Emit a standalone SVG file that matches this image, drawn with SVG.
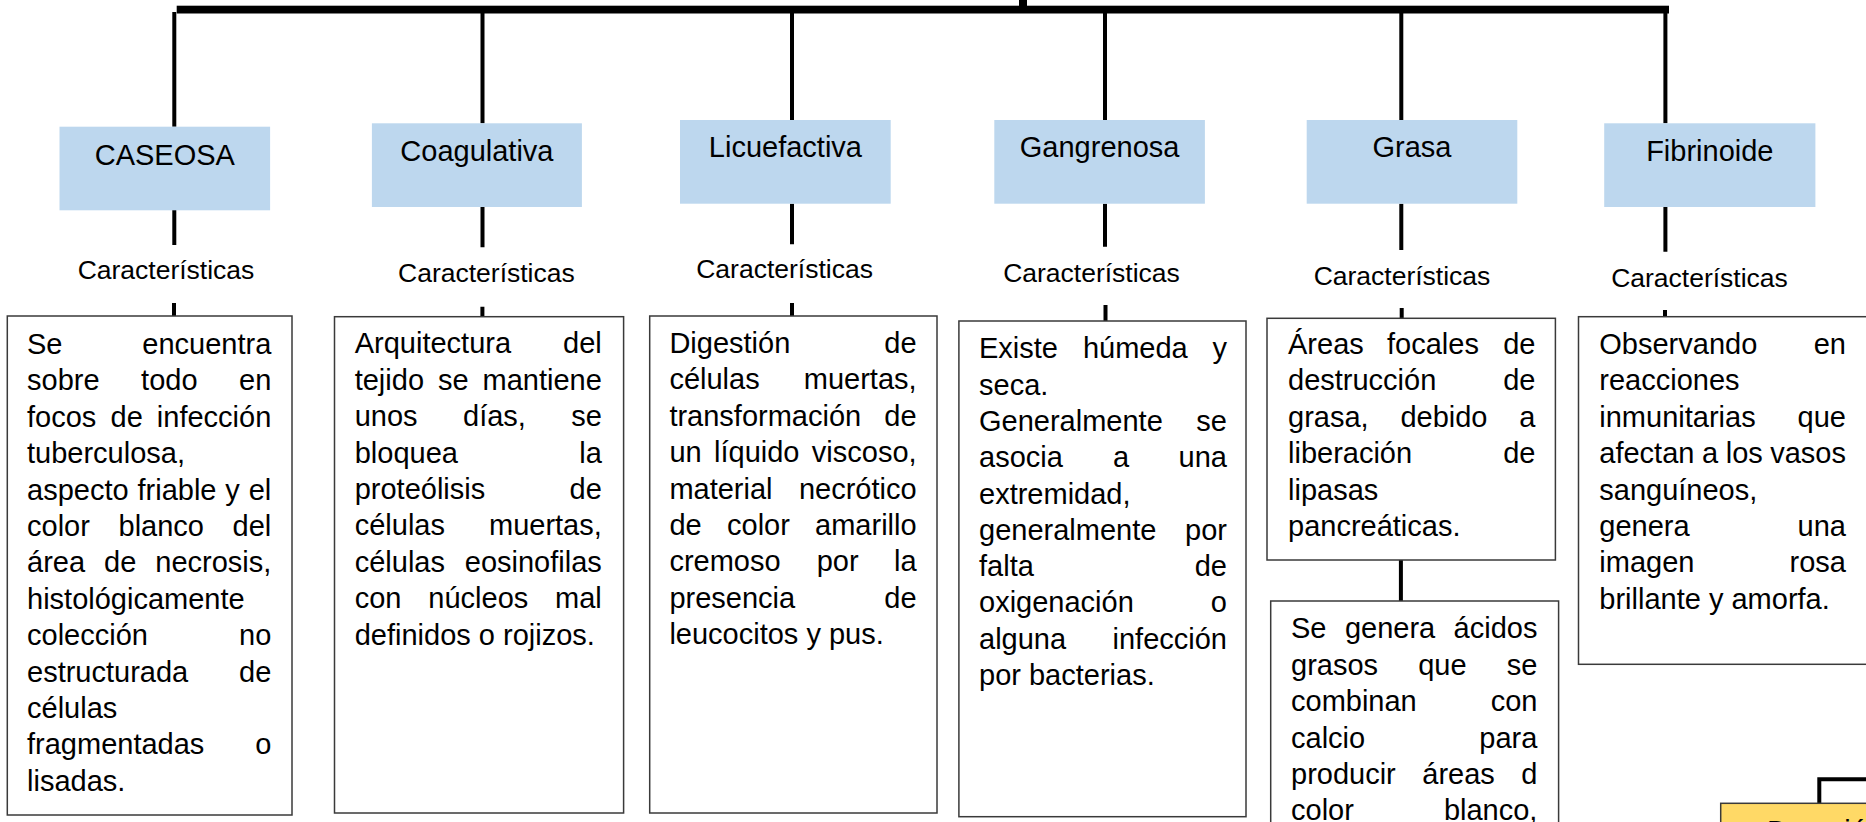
<svg xmlns="http://www.w3.org/2000/svg" width="1866" height="822" viewBox="0 0 1866 822">
<style>
text{font-family:"Liberation Sans",Arial,sans-serif;fill:#000}
.hdr{font-size:29px;text-anchor:middle}
.car{font-size:26.5px;text-anchor:middle}
.body{font-size:29px}
.e{text-anchor:end}
.blue{fill:#BDD7EE}
.box{fill:#fff;stroke:#3a3a3a;stroke-width:1.5}
.ln{stroke:#000;stroke-width:4;fill:none}
</style>
<rect width="1866" height="822" fill="#fff"/>
<g id="connectors">
<rect x="176.7" y="5.7" width="1492.3" height="7.8" fill="#000"/>
<rect x="1019" y="0" width="8" height="7" fill="#000"/>
<path class="ln" d="M174.3 12V126.7M482.5 13V123.3M792 13V120M1105 13V120M1401.3 13V120M1665.4 9V123.3"/>
<path class="ln" d="M174.3 210V245M482.5 207V247.3M792 203.7V244.3M1105 203.7V246.7M1401.3 203.7V250M1665.4 207V251.7"/>
<path class="ln" d="M174 303V316M482.4 306.7V316.7M792 303V316M1105.5 305V321M1401.7 308V318.3M1665 310V316.7"/>
<path class="ln" d="M1400.9 560V601"/>
<path class="ln" d="M1819.3 803V779.3H1870"/>
</g>
<g id="caseosa">
<rect class="blue" x="59.5" y="126.7" width="210.6" height="83.6"/>
<text class="hdr" x="164.8" y="165">CASEOSA</text>
<text class="car" x="166" y="279.3">Características</text>
<rect class="box" x="7.3" y="316" width="284.7" height="499"/>
<g class="body">
<text y="354"><tspan x="27">Se</tspan><tspan class="e" x="271.3">encuentra</tspan></text>
<text y="390.4"><tspan x="27">sobre</tspan><tspan x="141.1">todo</tspan><tspan class="e" x="271.3">en</tspan></text>
<text y="426.8"><tspan x="27">focos</tspan><tspan x="110.5">de</tspan><tspan class="e" x="271.3">infección</tspan></text>
<text y="463.2" x="27">tuberculosa,</text>
<text y="499.6"><tspan x="27">aspecto</tspan><tspan x="137.5">friable</tspan><tspan x="225.3">y</tspan><tspan class="e" x="271.3">el</tspan></text>
<text y="536"><tspan x="27">color</tspan><tspan x="118.5">blanco</tspan><tspan class="e" x="271.3">del</tspan></text>
<text y="572.4"><tspan x="27">área</tspan><tspan x="104">de</tspan><tspan class="e" x="271.3">necrosis,</tspan></text>
<text y="608.8" x="27">histológicamente</text>
<text y="645.2"><tspan x="27">colección</tspan><tspan class="e" x="271.3">no</tspan></text>
<text y="681.6"><tspan x="27">estructurada</tspan><tspan class="e" x="271.3">de</tspan></text>
<text y="718" x="27">células</text>
<text y="754.4"><tspan x="27">fragmentadas</tspan><tspan class="e" x="271.3">o</tspan></text>
<text y="790.8" x="27">lisadas.</text>
</g>
</g>
<g id="coagulativa">
<rect class="blue" x="371.9" y="123.3" width="210" height="83.7"/>
<text class="hdr" x="476.9" y="160.7">Coagulativa</text>
<text class="car" x="486.4" y="281.7">Características</text>
<rect class="box" x="334.5" y="316.7" width="289.1" height="496.3"/>
<g class="body">
<text y="353.3"><tspan x="354.7">Arquitectura</tspan><tspan class="e" x="601.8">del</tspan></text>
<text y="389.7"><tspan x="354.7">tejido</tspan><tspan x="438">se</tspan><tspan class="e" x="601.8">mantiene</tspan></text>
<text y="426.1"><tspan x="354.7">unos</tspan><tspan x="463">días,</tspan><tspan class="e" x="601.8">se</tspan></text>
<text y="462.5"><tspan x="354.7">bloquea</tspan><tspan class="e" x="601.8">la</tspan></text>
<text y="498.9"><tspan x="354.7">proteólisis</tspan><tspan class="e" x="601.8">de</tspan></text>
<text y="535.3"><tspan x="354.7">células</tspan><tspan class="e" x="601.8">muertas,</tspan></text>
<text y="571.7"><tspan x="354.7">células</tspan><tspan class="e" x="601.8">eosinofilas</tspan></text>
<text y="608.1"><tspan x="354.7">con</tspan><tspan x="428.3">núcleos</tspan><tspan class="e" x="601.8">mal</tspan></text>
<text y="644.5" x="354.7">definidos o rojizos.</text>
</g>
</g>
<g id="licuefactiva">
<rect class="blue" x="680" y="120" width="210.7" height="83.7"/>
<text class="hdr" x="785.4" y="157.3">Licuefactiva</text>
<text class="car" x="784.6" y="278.3">Características</text>
<rect class="box" x="649.7" y="316" width="287.3" height="497"/>
<g class="body">
<text y="353"><tspan x="669.4">Digestión</tspan><tspan class="e" x="916.6">de</tspan></text>
<text y="389.4"><tspan x="669.4">células</tspan><tspan class="e" x="916.6">muertas,</tspan></text>
<text y="425.8"><tspan x="669.4">transformación</tspan><tspan class="e" x="916.6">de</tspan></text>
<text y="462.2"><tspan x="669.4">un</tspan><tspan x="714">líquido</tspan><tspan class="e" x="916.6">viscoso,</tspan></text>
<text y="498.6"><tspan x="669.4">material</tspan><tspan class="e" x="916.6">necrótico</tspan></text>
<text y="535"><tspan x="669.4">de</tspan><tspan x="727">color</tspan><tspan class="e" x="916.6">amarillo</tspan></text>
<text y="571.4"><tspan x="669.4">cremoso</tspan><tspan x="816.7">por</tspan><tspan class="e" x="916.6">la</tspan></text>
<text y="607.8"><tspan x="669.4">presencia</tspan><tspan class="e" x="916.6">de</tspan></text>
<text y="644.2" x="669.4">leucocitos y pus.</text>
</g>
</g>
<g id="gangrenosa">
<rect class="blue" x="994.3" y="120" width="210.6" height="83.7"/>
<text class="hdr" x="1099.6" y="156.7">Gangrenosa</text>
<text class="car" x="1091.5" y="281.7">Características</text>
<rect class="box" x="958.9" y="321" width="287.1" height="495.7"/>
<g class="body">
<text y="358.3"><tspan x="979">Existe</tspan><tspan x="1082.9">húmeda</tspan><tspan class="e" x="1227">y</tspan></text>
<text y="394.6" x="979">seca.</text>
<text y="430.9"><tspan x="979">Generalmente</tspan><tspan class="e" x="1227">se</tspan></text>
<text y="467.2"><tspan x="979">asocia</tspan><tspan x="1113">a</tspan><tspan class="e" x="1227">una</tspan></text>
<text y="503.5" x="979">extremidad,</text>
<text y="539.8"><tspan x="979">generalmente</tspan><tspan class="e" x="1227">por</tspan></text>
<text y="576.1"><tspan x="979">falta</tspan><tspan class="e" x="1227">de</tspan></text>
<text y="612.4"><tspan x="979">oxigenación</tspan><tspan class="e" x="1227">o</tspan></text>
<text y="648.7"><tspan x="979">alguna</tspan><tspan class="e" x="1227">infección</tspan></text>
<text y="685" x="979">por bacterias.</text>
</g>
</g>
<g id="grasa">
<rect class="blue" x="1306.7" y="120" width="210.6" height="83.7"/>
<text class="hdr" x="1412" y="157">Grasa</text>
<text class="car" x="1402" y="285">Características</text>
<rect class="box" x="1267" y="318.3" width="288.4" height="241.7"/>
<g class="body">
<text y="354"><tspan x="1288">Áreas</tspan><tspan x="1387">focales</tspan><tspan class="e" x="1535.4">de</tspan></text>
<text y="390.4"><tspan x="1288">destrucción</tspan><tspan class="e" x="1535.4">de</tspan></text>
<text y="426.8"><tspan x="1288">grasa,</tspan><tspan x="1400.4">debido</tspan><tspan class="e" x="1535.4">a</tspan></text>
<text y="463.2"><tspan x="1288">liberación</tspan><tspan class="e" x="1535.4">de</tspan></text>
<text y="499.6" x="1288">lipasas</text>
<text y="536" x="1288">pancreáticas.</text>
</g>
</g>
<g id="grasa-detalle">
<rect class="box" x="1270.7" y="601" width="287.9" height="240"/>
<g class="body">
<text y="638.3"><tspan x="1291">Se</tspan><tspan x="1344.9">genera</tspan><tspan class="e" x="1537.4">ácidos</tspan></text>
<text y="674.7"><tspan x="1291">grasos</tspan><tspan x="1418.2">que</tspan><tspan class="e" x="1537.4">se</tspan></text>
<text y="711.1"><tspan x="1291">combinan</tspan><tspan class="e" x="1537.4">con</tspan></text>
<text y="747.5"><tspan x="1291">calcio</tspan><tspan class="e" x="1537.4">para</tspan></text>
<text y="783.9"><tspan x="1291">producir</tspan><tspan x="1422.3">áreas</tspan><tspan class="e" x="1537.4">d</tspan></text>
<text y="820.3"><tspan x="1291">color</tspan><tspan class="e" x="1537.4">blanco,</tspan></text>
</g>
</g>
<g id="fibrinoide">
<rect class="blue" x="1604.2" y="123.3" width="211.2" height="83.7"/>
<text class="hdr" x="1709.8" y="160.7">Fibrinoide</text>
<text class="car" x="1699.5" y="286.7">Características</text>
<rect class="box" x="1578.5" y="316.7" width="300" height="347.6"/>
<g class="body">
<text y="354"><tspan x="1599.3">Observando</tspan><tspan class="e" x="1846">en</tspan></text>
<text y="390.4" x="1599.3">reacciones</text>
<text y="426.8"><tspan x="1599.3">inmunitarias</tspan><tspan class="e" x="1846">que</tspan></text>
<text y="463.2"><tspan x="1599.3">afectan</tspan><tspan x="1702">a</tspan><tspan x="1725.7">los</tspan><tspan class="e" x="1846">vasos</tspan></text>
<text y="499.6" x="1599.3">sanguíneos,</text>
<text y="536"><tspan x="1599.3">genera</tspan><tspan class="e" x="1846">una</tspan></text>
<text y="572.4"><tspan x="1599.3">imagen</tspan><tspan class="e" x="1846">rosa</tspan></text>
<text y="608.8" x="1599.3">brillante y amorfa.</text>
</g>
</g>
<g id="nodo-inferior">
<rect x="1720.7" y="803.3" width="160" height="40" fill="#FFD966" stroke="#3a3a3a" stroke-width="1.5"/>
<text class="body" x="1767" y="841">Duración</text>
</g>
</svg>
